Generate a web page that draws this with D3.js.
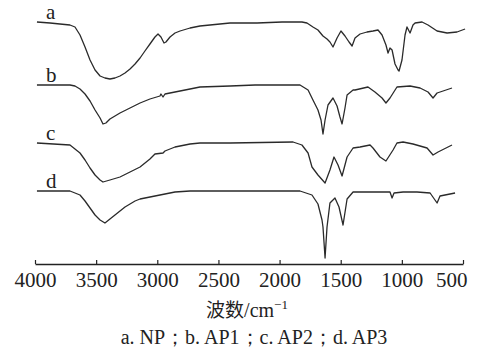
<!DOCTYPE html>
<html><head><meta charset="utf-8">
<script src="https://cdn.jsdelivr.net/npm/d3@7"></script>
<style>
html,body{margin:0;padding:0;background:#fff;}
svg{display:block;}
.serif{font-family:"Liberation Serif","Times New Roman","DejaVu Serif",serif;}
</style></head>
<body>
<svg id="chart" width="477" height="349"></svg>
<script>
// Wavenumber ticks (cm^-1)
const tickValues = [4000, 3500, 3000, 2500, 2000, 1500, 1000, 500];
const seriesLabels = ["a", "b", "c", "d"];
const caption = "a. NP；b. AP1；c. AP2；d. AP3";

// [wavenumber, offset transmittance (a.u.)]
const spectrumA = [[3984,242],[3877,241],[3796,240],[3714,239],[3673,237],[3632,229],[3591,217],[3550,204],[3509,194],[3468,188],[3428,186],[3387,185],[3346,186],[3305,188],[3264,191],[3223,195],[3182,200],[3141,206],[3101,213],[3060,220],[3019,227],[2994,230],[2970,227],[2945,221],[2929,222],[2896,227],[2855,231],[2814,233],[2732,236],[2651,238],[2487,240],[2405,241],[2184,241],[1980,242],[1817,242],[1776,241],[1727,237],[1686,234],[1645,228],[1612,225],[1588,222],[1563,217],[1530,226],[1498,233],[1465,228],[1432,222],[1407,218],[1383,226],[1342,230],[1285,232],[1236,233],[1195,234],[1162,229],[1130,219],[1113,211],[1097,216],[1080,214],[1056,200],[1031,194],[1023,193],[999,204],[974,229],[958,237],[933,231],[909,239],[892,241],[835,242],[786,239],[712,233],[630,231],[549,232],[483,235]];
const spectrumB = [[3984,179],[3714,179],[3673,178],[3632,175],[3591,170],[3550,163],[3509,154],[3468,146],[3444,140],[3420,141],[3387,145],[3346,148],[3305,151],[3223,156],[3141,161],[3060,165],[2978,168],[2970,170],[2953,167],[2937,170],[2855,172],[2732,175],[2651,177],[2405,178],[2200,179],[1833,179],[1767,174],[1727,164],[1686,154],[1661,144],[1645,130],[1628,144],[1604,159],[1563,166],[1530,158],[1506,147],[1489,140],[1465,156],[1448,169],[1399,174],[1383,174],[1277,177],[1220,172],[1162,166],[1130,161],[1097,166],[1040,177],[933,178],[851,176],[786,172],[745,166],[712,171],[663,173],[590,176]];
const spectrumC = [[3984,121],[3714,119],[3632,111],[3591,104],[3550,96],[3509,89],[3468,84],[3444,82],[3387,84],[3305,87],[3223,92],[3141,97],[3060,105],[3019,110],[2953,111],[2937,113],[2855,117],[2732,120],[2651,121],[2405,121],[1890,122],[1817,119],[1767,111],[1735,97],[1686,89],[1628,81],[1588,94],[1555,107],[1522,99],[1489,88],[1448,107],[1399,116],[1342,117],[1260,119],[1236,116],[1179,107],[1130,103],[1072,114],[1040,121],[990,122],[909,120],[794,116],[745,109],[704,112],[590,119]];
const spectrumD = [[3984,73],[3714,73],[3632,69],[3591,63],[3550,56],[3509,49],[3468,44],[3428,41],[3387,45],[3346,49],[3264,57],[3182,63],[3141,65],[2978,69],[2855,72],[2732,73],[1833,73],[1735,69],[1686,60],[1653,44],[1645,37],[1628,6],[1612,37],[1588,61],[1547,66],[1514,57],[1481,39],[1448,65],[1399,72],[1318,72],[1097,72],[1080,66],[1064,71],[990,72],[876,72],[769,71],[712,61],[688,68],[565,71]];

const spectra = [spectrumA, spectrumB, spectrumC, spectrumD];

const svg = d3.select("#chart");
const x = d3.scaleLinear().domain([4000, 500]).range([35, 463]);
const y = d3.scaleLinear().domain([0, 250]).range([264, 14]);

const line = d3.line().x(d => x(d[0])).y(d => y(d[1])).curve(d3.curveLinear);

svg.append("g").selectAll("path").data(spectra).join("path")
  .attr("d", line)
  .attr("fill", "none")
  .attr("stroke", "#2a2a2a")
  .attr("stroke-width", 1.3)
  .attr("stroke-linejoin", "round");

// series labels placed above the start of each curve
svg.append("g").selectAll("text").data(spectra).join("text")
  .attr("class", "serif")
  .attr("x", 46)
  .attr("y", d => y(d[0][1]) - 3)
  .text((d, i) => seriesLabels[i])
  .attr("font-size", 21)
  .attr("fill", "#222");

// x axis
const axis = d3.axisBottom(x).tickValues(tickValues).tickSizeInner(-4).tickSizeOuter(0).tickFormat(d3.format("d"));
const gx = svg.append("g").attr("transform", "translate(0,264)").call(axis);
gx.attr("font-family", null).attr("font-size", null);
gx.select(".domain").attr("stroke", "#222").attr("stroke-width", 1.4);
gx.selectAll(".tick line").attr("stroke", "#222").attr("stroke-width", 1.2);
gx.selectAll(".tick text")
  .attr("class", "serif")
  .attr("y", 23).attr("dy", 0)
  .attr("font-size", 21)
  .attr("fill", "#222");
gx.selectAll(".tick text").filter(d => d === 500).attr("text-anchor", "end").attr("x", 4);

// axis title
const title = svg.append("text").attr("x", 247).attr("y", 317).attr("text-anchor", "middle")
  .attr("fill", "#222").attr("font-size", 20);
title.append("tspan").attr("font-family", "'Noto Sans CJK SC', sans-serif").attr("font-size", 19).text("波数");
title.append("tspan").attr("class", "serif").text("/cm");
title.append("tspan").attr("class", "serif").attr("font-size", 13).attr("dy", -8).text("−1");

// caption
svg.append("text").attr("class", "serif").attr("x", 254).attr("y", 344).attr("text-anchor", "middle")
  .attr("font-size", 20).attr("fill", "#222")
  .text(caption);
</script>
</body></html>
